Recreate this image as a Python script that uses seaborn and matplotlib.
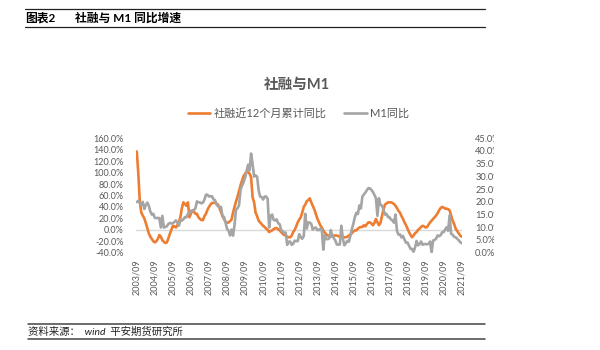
import numpy as np
import pandas as pd
import matplotlib
matplotlib.use("Agg")
import matplotlib.pyplot as plt
import seaborn as sns
from matplotlib.lines import Line2D
from matplotlib.patches import Rectangle

# Monthly series, 2003/09 - 2021/09 (%)
tsf_yoy = [
    137, 100, 50, 30,                                   # 2003
    25, 20, 12, 3, -6, -12, -16, -20, -22, -20, -16, -9,  # 2004
    -12, -18, -21, -23, -22, -15, -7, 0, 7, 6, 4, 8,      # 2005
    14, 22, 38, 48, 45, 42, 48, 22, 28, 34, 32, 28,       # 2006
    28, 22, 19, 17, 17, 24, 28, 35, 40, 44, 47, 47,       # 2007
    48, 46, 44, 38, 31, 24, 19, 14, 12, 13, 15, 18,       # 2008
    30, 40, 50, 58, 68, 78, 86, 94, 98, 101, 101, 98,     # 2009
    92, 57, 48, 30, 24, 16, 13, 10, 7, 5, 2, 0,           # 2010
    -4, -2, -1, 1, 3, 3, 1, -1, -4, -7, -9, -10,          # 2011
    -12, -13, -13, -10, -4, 0, 6, 13, 18, 22, 30, 40,     # 2012
    44, 50, 52, 55, 48, 42, 36, 28, 20, 14, 8, 4,         # 2013
    -1, -5, -8, -10, -11, -12, -11, -10, -10, -10, -11, -12,  # 2014
    -12, -13, -13, -13, -12, -10, -8, -6, -3, -1, -1, 2,  # 2015
    4, 5, 5, 8, 6, 10, 13, 13, 11, 8, 12, 19,             # 2016
    13, 8, 12, 24, 35, 44, 46, 48, 48, 48, 47, 45,        # 2017
    42, 38, 33, 30, 24, 19, 13, 8, 2, -4, -9, -13,        # 2018
    -10, -6, -4, 0, 2, 5, 7, 6, 4, 5, 9, 13,              # 2019
    16, 19, 22, 25, 29, 34, 38, 40, 39, 37, 37, 36,       # 2020
    34, 25, 16, 10, 2, -2, -6, -10, -12,                  # 2021
]

m1_yoy = [
    19.9, 20.4, 19.5, 18.7,
    20.0, 17.2, 18.7, 19.7, 18.5, 16.2, 15.0, 15.3, 13.7, 13.6, 13.7, 13.6,
    9.9, 14.5, 9.9, 10.1, 10.4, 11.3, 11.7, 11.5, 11.6, 12.1, 12.7, 11.8,
    10.6, 12.9, 12.6, 13.2, 14.0, 13.9, 15.3, 15.6, 16.5, 16.3, 16.8, 17.5,
    20.2, 19.8, 19.8, 19.4, 19.7, 20.9, 22.8, 22.8, 22.1, 22.2, 22.2, 21.0,
    20.7, 18.9, 18.3, 17.9, 18.0, 14.2, 14.1, 11.9, 9.4, 8.7, 6.8, 9.1,
    6.7, 10.9, 17.0, 17.5, 18.7, 24.8, 26.4, 27.7, 29.5, 32.0, 34.6, 32.4,
    39.0, 34.9, 29.9, 30.4, 29.9, 24.6, 22.1, 21.9, 20.9, 22.1, 22.1, 21.2,
    9.9, 14.5, 15.0, 12.9, 12.7, 13.1, 11.6, 11.2, 8.9, 8.4, 7.8, 7.9,
    3.1, 4.3, 4.4, 3.1, 3.5, 4.7, 4.6, 4.5, 7.3, 6.1, 5.5, 6.5,
    15.3, 9.5, 11.9, 11.9, 11.3, 9.1, 9.7, 9.9, 8.9, 8.9, 9.4, 9.3,
    1.2, 6.9, 5.4, 5.3, 5.7, 8.9, 6.7, 5.7, 4.8, 3.2, 3.2, 3.2,
    10.6, 5.6, 2.9, 3.7, 4.7, 4.3, 6.6, 9.3, 11.4, 14.0, 15.7, 15.2,
    18.6, 17.4, 22.1, 22.9, 23.7, 24.6, 25.4, 25.3, 24.7, 23.9, 22.7, 21.4,
    14.5, 21.4, 18.8, 18.5, 17.0, 15.0, 15.3, 14.0, 14.0, 13.0, 12.7, 11.8,
    15.0, 8.5, 7.1, 7.2, 6.0, 6.6, 5.1, 3.9, 4.0, 2.7, 1.5, 1.5,
    0.4, 2.0, 4.6, 2.9, 3.4, 4.4, 3.1, 3.4, 3.4, 3.3, 3.5, 4.4,
    0.0, 4.8, 5.0, 5.5, 6.8, 6.5, 6.9, 8.0, 8.1, 9.1, 10.0, 8.6,
    14.7, 7.4, 7.1, 6.2, 6.1, 5.5, 4.9, 4.2, 3.7,
]

tick_labels = ["2003/09", "2004/09", "2005/09", "2006/09", "2007/09", "2008/09",
               "2009/09", "2010/09", "2011/09", "2012/09", "2013/09", "2014/09",
               "2015/09", "2016/09", "2017/09", "2018/09", "2019/09", "2020/09",
               "2021/09"]

left_ticks = [-40, -20, 0, 20, 40, 60, 80, 100, 120, 140, 160]
right_ticks = [0, 5, 10, 15, 20, 25, 30, 35, 40, 45]

series_names = ["社融近12个月累计同比", "M1同比"]
chart_title = "社融与M1"

df = pd.DataFrame({"idx": np.arange(len(tsf_yoy)), "tsf": tsf_yoy, "m1": m1_yoy})

sns.set_theme(style="white")
plt.rcParams["font.family"] = ["Lato", "Noto Sans CJK SC"]

ORANGE = "#ED7D31"
GREY = "#A5A5A5"
TXT = "#595959"

fig = plt.figure(figsize=(6, 3.5), dpi=100)
fig.patch.set_facecolor("white")
ax = fig.add_axes([0.2267, 0.278, 0.544, 0.3269])
ax2 = ax.twinx()
ax.set_facecolor("none")

ax.axhline(0, color="#D9D9D9", lw=1.0, zorder=0)
sns.lineplot(data=df, x="idx", y="tsf", ax=ax, color=ORANGE, lw=1.9)
sns.lineplot(data=df, x="idx", y="m1", ax=ax2, color=GREY, lw=1.9)

ax.set_xlim(-0.5, len(tsf_yoy) - 0.5)
ax.set_ylim(-40, 160)
ax2.set_ylim(0, 45)

ax.set_yticks(left_ticks)
ax.set_yticklabels([f"{v:.1f}%" for v in left_ticks])
ax2.set_yticks(right_ticks)
ax2.set_yticklabels([f"{v:.1f}%" for v in right_ticks])
ax.set_xticks(np.arange(0, len(tsf_yoy), 12))
ax.set_xticklabels(tick_labels, rotation=90)

for a in (ax, ax2):
    a.set_xlabel("")
    a.set_ylabel("")
    for s in a.spines.values():
        s.set_visible(False)
    a.grid(False)
ax.tick_params(axis="y", length=0, labelsize=6.5, colors=TXT, pad=9)
ax.tick_params(axis="x", length=0, labelsize=6.5, colors=TXT, pad=5)
ax2.tick_params(axis="y", length=0, labelsize=6.7, colors=TXT, pad=9.2)

# the chart frame ends just right of the secondary axis labels, trimming them
fig.add_artist(Rectangle((494 / 600, 100 / 350), 1 - 494 / 600, 120 / 350,
                         transform=fig.transFigure, facecolor="white",
                         edgecolor="none", zorder=10))

fig.text(0.495, 1 - 85 / 350, chart_title, ha="center", va="center",
         fontsize=10.5, fontweight="bold", color=TXT)

handles = [Line2D([], [], color=ORANGE, lw=1.9), Line2D([], [], color=GREY, lw=1.9)]
fig.legend(handles, series_names, loc="center", bbox_to_anchor=(0.4975, 1 - 113 / 350),
           ncol=2, frameon=False, fontsize=8, labelcolor=TXT, handlelength=2.0,
           handletextpad=0.3, columnspacing=1.6)

# report header and source footer
x0, x1 = 25 / 600, 485 / 600
fig.add_artist(Line2D([x0, x1], [1 - 9.3 / 350] * 2, color="#222222", lw=0.9))
fig.add_artist(Line2D([x0, x1], [1 - 27.3 / 350] * 2, color="#222222", lw=0.9))
fig.text(25 / 600, 1 - 18.3 / 350, "图表2", ha="left", va="center",
         fontsize=8.5, fontweight="bold", color="black")
fig.text(75 / 600, 1 - 18.3 / 350, "社融与 M1 同比增速", ha="left", va="center",
         fontsize=8.5, fontweight="bold", color="black")

fig.add_artist(Line2D([28 / 600, x1], [1 - 324 / 350] * 2, color="#444444", lw=1.1))
fig.add_artist(Line2D([28 / 600, x1], [1 - 339 / 350] * 2, color="#444444", lw=1.1))
fig.text(28 / 600, 1 - 331.5 / 350, "资料来源：  wind  平安期货研究所", ha="left", va="center",
         fontsize=7.5, style="italic", color="#222222")

fig.savefig("out.png", dpi=100, facecolor="white")
